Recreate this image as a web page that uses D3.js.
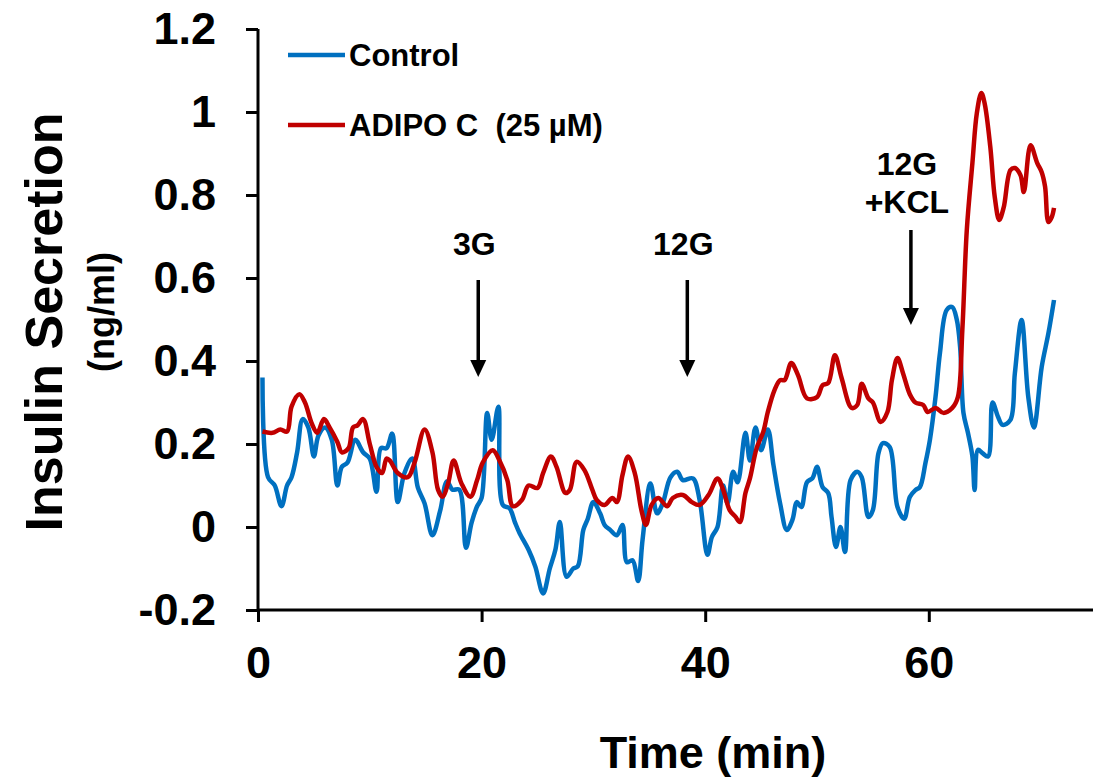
<!DOCTYPE html>
<html>
<head>
<meta charset="utf-8">
<script src="https://cdn.jsdelivr.net/npm/d3@7"></script>
<style>
  html, body { margin: 0; padding: 0; background: #fff; }
  svg { display: block; }
  text { font-family: "Liberation Sans", Arial, sans-serif; font-weight: bold; fill: #000; }
</style>
</head>
<body>
<svg id="chart" width="1093" height="783"></svg>
<script>
// ---- Data ----
const controlTime = [0.4,0.9,1.5,2.1,2.6,3.0,3.5,4.0,4.5,5.0,5.4,6.0,6.6,7.1,7.5,8.0,8.7,9.4,10.0,10.6,11.0,11.5,12.0,12.5,13.1,13.8,14.3,14.9,15.6,16.3,16.9,17.4,18.0,18.6,19.1,19.6,20.0,20.5,20.9,21.5,21.9,22.5,23.0,23.4,24.2,24.8,25.5,26.1,26.6,27.0,27.6,28.2,28.6,29.1,29.5,30.0,30.6,31.0,31.5,32.1,32.6,33.0,33.5,34.0,34.4,35.1,35.7,36.2,36.9,37.5,38.0,38.9,39.5,40.2,40.6,41.1,41.6,42.0,42.5,42.9,43.6,44.0,44.5,45.0,45.6,46.1,46.7,47.3,47.8,48.2,48.6,49.1,49.6,50.0,50.5,51.0,51.3,51.7,52.1,52.5,53.0,53.6,54.0,54.6,55.0,55.5,55.9,56.5,57.2,57.8,58.3,58.8,59.2,59.7,60.1,60.6,61.0,61.6,62.1,62.5,62.8,63.1,63.5,63.9,64.1,64.4,64.8,65.3,65.7,66.2,66.6,67.3,67.7,68.3,68.9,69.4,70.1,70.7,71.2];
const controlValues = [0.36,0.12,0.10,0.05,0.10,0.12,0.18,0.26,0.24,0.17,0.22,0.24,0.21,0.10,0.145,0.155,0.21,0.18,0.165,0.085,0.19,0.19,0.225,0.06,0.13,0.165,0.095,0.057,-0.02,0.04,0.11,0.09,0.09,-0.05,0.01,0.05,0.07,0.275,0.21,0.29,0.053,0.045,0.01,-0.015,-0.055,-0.095,-0.16,-0.10,-0.055,0.012,-0.12,-0.10,-0.095,-0.007,0.02,0.06,0.033,0.005,-0.007,-0.02,0.005,-0.085,-0.08,-0.13,-0.03,0.105,0.033,0.057,0.12,0.133,0.113,0.117,0.065,-0.067,-0.024,0.0,0.10,0.057,0.133,0.108,0.227,0.16,0.24,0.185,0.235,0.15,0.057,-0.007,0.017,0.06,0.048,0.108,0.118,0.145,0.096,0.082,0.024,-0.048,0.0,-0.06,0.113,0.133,0.12,0.024,0.041,0.178,0.202,0.193,0.048,0.02,0.072,0.089,0.096,0.154,0.21,0.313,0.42,0.523,0.53,0.50,0.434,0.275,0.227,0.17,0.089,0.186,0.178,0.17,0.30,0.265,0.246,0.258,0.371,0.499,0.313,0.24,0.386,0.467,0.547];

const adipoTime = [0.4,1.3,2.0,2.6,3.0,3.7,4.2,4.8,5.3,5.9,6.4,7.1,7.5,8.1,8.5,8.9,9.4,10.0,10.6,11.1,11.5,11.8,12.5,13.4,14.0,14.9,15.6,16.1,16.5,17.0,17.5,18.2,19.0,19.6,20.1,21.0,21.6,22.3,22.8,23.6,24.2,25.0,25.5,26.2,26.7,27.5,27.9,28.5,29.2,29.9,30.3,31.0,31.7,32.1,32.6,33.1,33.7,34.3,34.7,35.2,35.8,36.6,37.1,38.0,38.8,39.5,40.3,41.1,41.6,42.2,42.7,43.1,43.6,44.0,44.6,45.2,45.6,46.2,46.7,47.1,47.7,48.3,49.1,50.0,50.5,51.0,51.6,52.2,53.1,53.6,54.0,54.6,55.0,55.7,56.3,56.7,57.2,57.7,58.3,58.8,59.5,59.9,60.6,61.3,62.1,62.6,63.0,63.4,63.9,64.3,64.7,65.0,65.5,65.9,66.3,66.7,67.3,67.7,68.2,68.5,69.1,69.7,70.1,70.4,70.7,71.0,71.2];
const adipoValues = [0.23,0.227,0.235,0.23,0.29,0.32,0.30,0.25,0.227,0.26,0.24,0.205,0.18,0.19,0.24,0.245,0.26,0.20,0.145,0.13,0.165,0.16,0.13,0.12,0.155,0.235,0.18,0.09,0.073,0.105,0.16,0.105,0.073,0.113,0.155,0.185,0.16,0.113,0.05,0.065,0.10,0.094,0.13,0.17,0.145,0.082,0.09,0.157,0.137,0.09,0.065,0.053,0.07,0.06,0.125,0.17,0.13,0.04,0.005,0.053,0.07,0.05,0.07,0.077,0.06,0.053,0.077,0.117,0.09,0.04,0.025,0.012,0.082,0.117,0.19,0.23,0.277,0.33,0.354,0.354,0.395,0.366,0.31,0.313,0.342,0.347,0.414,0.359,0.287,0.294,0.345,0.31,0.30,0.253,0.277,0.354,0.407,0.37,0.32,0.30,0.294,0.277,0.287,0.275,0.287,0.313,0.475,0.716,0.877,0.998,1.046,1.02,0.916,0.795,0.74,0.77,0.86,0.865,0.848,0.807,0.92,0.877,0.855,0.82,0.735,0.747,0.769];

const seriesNames = ["Control", "ADIPO C  (25 µM)"];
const seriesColors = ["#0070C0", "#C00000"];
const xTicks = [0, 20, 40, 60];
const yTicks = [-0.2, 0, 0.2, 0.4, 0.6, 0.8, 1, 1.2];
const yTickLabels = ["-0.2", "0", "0.2", "0.4", "0.6", "0.8", "1", "1.2"];
const annotations = [
  { t: 19.7, lines: ["3G"] },
  { t: 38.4, lines: ["12G"] },
  { t: 58.4, lines: ["12G", "+KCL"] }
];

// ---- Layout ----
const svg = d3.select("#chart");
const x = d3.scaleLinear().domain([0, 75]).range([258, 258 + 75 * 11.18]);
const y = d3.scaleLinear().domain([-0.2, 1.2]).range([610, 29]);

// Axes
const yAxis = svg.append("g").attr("transform", "translate(258,0)")
  .call(d3.axisLeft(y).tickValues(yTicks).tickSize(12).tickPadding(30)
    .tickFormat((d, i) => yTickLabels[i]));
const xAxis = svg.append("g").attr("transform", "translate(0,610)")
  .call(d3.axisBottom(x).tickValues(xTicks).tickSize(12).tickPadding(24).tickFormat(d3.format("d")));

[yAxis, xAxis].forEach(g => {
  g.select(".domain").attr("stroke", "#000").attr("stroke-width", 3);
  g.selectAll(".tick line").attr("stroke", "#000").attr("stroke-width", 3);
  g.selectAll(".tick text").style("font-size", "45px").attr("fill", "#000");
});
yAxis.select(".domain").attr("d", `M0,${y(1.2)}V${y(-0.2)}`);
xAxis.select(".domain").attr("d", `M${x(0)},0H1093`);

// Lines
const line = d3.line().x(d => x(d[0])).y(d => y(d[1])).curve(d3.curveCatmullRom.alpha(0.5));
const controlData = controlTime.map((t, i) => [t, controlValues[i]]);
const adipoData = adipoTime.map((t, i) => [t, adipoValues[i]]);

svg.append("path").datum(controlData).attr("d", line)
  .attr("fill", "none").attr("stroke", seriesColors[0]).attr("stroke-width", 4.5).attr("stroke-linejoin", "round");
svg.append("path").datum(adipoData).attr("d", line)
  .attr("fill", "none").attr("stroke", seriesColors[1]).attr("stroke-width", 4.5).attr("stroke-linejoin", "round");

// Legend
const legendY = [55, 125];
seriesNames.forEach((name, i) => {
  svg.append("line").attr("x1", 288).attr("x2", 345).attr("y1", legendY[i]).attr("y2", legendY[i])
    .attr("stroke", seriesColors[i]).attr("stroke-width", 4.5);
  svg.append("text").attr("x", 349).attr("y", legendY[i] + 11).style("font-size", "31px")
    .attr("xml:space", "preserve").style("white-space", "pre").text(name);
});

// Annotations with arrows
annotations.forEach(a => {
  const cx = x(a.t);
  const two = a.lines.length > 1;
  const textTop = two ? 175 : 255;
  a.lines.forEach((ln, j) => {
    svg.append("text").attr("x", cx - 4).attr("y", textTop + j * 38)
      .attr("text-anchor", "middle").style("font-size", "32px").text(ln);
  });
  const y1 = two ? 230 : 280;
  const y2 = two ? 325 : 377;
  svg.append("line").attr("x1", cx).attr("x2", cx).attr("y1", y1).attr("y2", y2 - 14)
    .attr("stroke", "#000").attr("stroke-width", 3.5);
  svg.append("path").attr("d", `M${cx - 8},${y2 - 17}L${cx + 8},${y2 - 17}L${cx},${y2}Z`).attr("fill", "#000");
});

// Axis titles
svg.append("text").attr("transform", "translate(62,322) rotate(-90)")
  .attr("text-anchor", "middle").style("font-size", "52px").text("Insulin Secretion");
svg.append("text").attr("transform", "translate(114,312) rotate(-90)")
  .attr("text-anchor", "middle").style("font-size", "36px").text("(ng/ml)");
svg.append("text").attr("x", 713).attr("y", 768)
  .attr("text-anchor", "middle").style("font-size", "45px").text("Time (min)");
</script>
</body>
</html>
